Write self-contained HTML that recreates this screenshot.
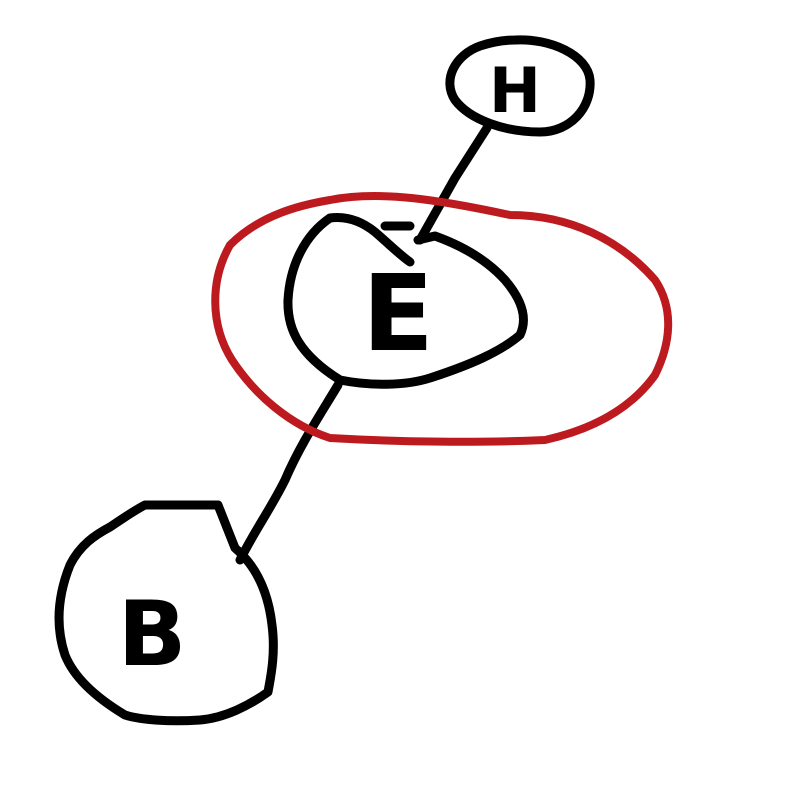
<!DOCTYPE html>
<html><head><meta charset="utf-8"><style>
html,body{margin:0;padding:0;background:#fff;}
svg{display:block;}
</style></head><body>
<svg width="811" height="802" viewBox="0 0 811 802">
<g fill="none" stroke="#000" stroke-width="9" stroke-linecap="round" stroke-linejoin="round">
<path d="M515,40 C550,38 588,55 590,80 C592,108 570,132 540,132 C505,132 470,120 455,100 C442,80 455,55 480,46 C492,42 505,40 515,40 Z"/>
<path d="M487,128 L455,178 L420,240"/>
<path d="M330,218 C305,235 290,265 288,300 C287,330 300,355 340,380 C370,386 405,386 430,378 C470,365 500,352 520,335 C528,318 522,300 505,280 C485,258 460,245 435,236 L418,240 M330,218 C345,216 360,220 375,232 C390,245 400,255 410,262 M385,226 L410,226"/>
<path d="M338,385 C320,415 300,445 285,480 C270,510 255,530 240,560"/>
<path d="M145,505 L218,505 L235,548 C255,565 268,590 272,625 C276,655 270,680 268,692 C250,705 225,718 200,720 C170,722 140,720 125,715 C100,700 75,680 65,655 C55,625 58,595 70,565 C80,545 95,535 110,527 C125,517 135,510 145,505 Z"/>
</g>
<path fill="none" stroke="#bd1a1f" stroke-width="8" stroke-linecap="round" d="M330,200 C380,190 440,200 510,215 C570,215 620,240 655,280 C675,310 670,345 655,375 C630,410 590,430 545,440 C480,443 400,442 330,438 C290,425 255,395 232,360 C210,325 210,280 230,245 C260,215 300,205 330,200 Z"/>
<text x="515" y="112" font-family="DejaVu Sans, sans-serif" font-size="62" font-weight="bold" text-anchor="middle" fill="#000">H</text>
<text x="398" y="350" font-family="DejaVu Sans, sans-serif" font-size="105" font-weight="bold" text-anchor="middle" fill="#000">E</text>
<text x="152" y="665" font-family="DejaVu Sans, sans-serif" font-size="90" font-weight="bold" text-anchor="middle" fill="#000">B</text>
</svg>
</body></html>
